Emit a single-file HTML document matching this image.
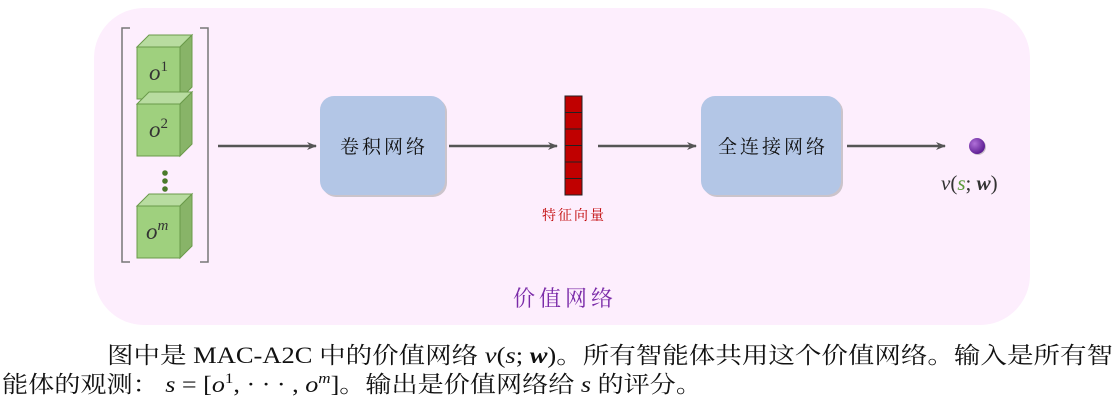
<!DOCTYPE html>
<html><head><meta charset="utf-8"><style>
html,body{margin:0;padding:0;background:#fff;width:1118px;height:404px;overflow:hidden}
svg{display:block}
.cj{font-family:"Liberation Serif","Noto Serif CJK SC",serif}
.it{font-family:"Liberation Serif",serif;font-style:italic}
</style></head><body>
<svg width="1118" height="404" viewBox="0 0 1118 404" xmlns="http://www.w3.org/2000/svg">
<defs>
<marker id="ar" markerWidth="10" markerHeight="10" refX="9" refY="5" orient="auto" markerUnits="userSpaceOnUse">
<path d="M0,1 L10,5 L0,9 L3,5 Z" fill="#555"/></marker>
<radialGradient id="dg" cx="0.35" cy="0.35" r="0.7"><stop offset="0" stop-color="#b070d8"/><stop offset="1" stop-color="#5a1a90"/></radialGradient>
</defs>
<rect x="94" y="8" width="936" height="317" rx="50" fill="#fdeefd"/>
<path d="M130,28 L122,28 L122,262 L130,262" fill="none" stroke="#777" stroke-width="1.5"/>
<path d="M200,28 L208,28 L208,262 L200,262" fill="none" stroke="#777" stroke-width="1.5"/>
<g stroke="#6a9a4a" stroke-width="1">
<polygon points="137,47 149,35 192,35 180,47" fill="#b8dca0"/>
<polygon points="180,47 192,35 192,87 180,99" fill="#88b468"/>
<rect x="137" y="47" width="43" height="52" fill="#9fd07e"/>
<polygon points="137,104 149,92 192,92 180,104" fill="#b8dca0"/>
<polygon points="180,104 192,92 192,144 180,156" fill="#88b468"/>
<rect x="137" y="104" width="43" height="52" fill="#9fd07e"/>
<polygon points="137,206 149,194 192,194 180,206" fill="#b8dca0"/>
<polygon points="180,206 192,194 192,246 180,258" fill="#88b468"/>
<rect x="137" y="206" width="43" height="52" fill="#9fd07e"/>
</g>
<circle cx="165" cy="173" r="2.8" fill="#4a7a2a"/>
<circle cx="165" cy="181" r="2.8" fill="#4a7a2a"/>
<circle cx="165" cy="189" r="2.8" fill="#4a7a2a"/>
<text x="149" y="80" class="it" font-size="23" fill="#333">o<tspan font-style="normal" font-size="15" dy="-9">1</tspan></text>
<text x="149" y="137" class="it" font-size="23" fill="#333">o<tspan font-style="normal" font-size="15" dy="-9">2</tspan></text>
<text x="146" y="239" class="it" font-size="23" fill="#333">o<tspan font-size="15" dy="-9">m</tspan></text>
<g stroke="#555" stroke-width="2.5" marker-end="url(#ar)">
<line x1="218" y1="146" x2="316" y2="146"/>
<line x1="449" y1="146" x2="557" y2="146"/>
<line x1="598" y1="146" x2="696" y2="146"/>
<line x1="847" y1="146" x2="945" y2="146"/>
</g>
<rect x="322" y="98" width="125" height="99" rx="14" fill="#999" opacity="0.5"/>
<rect x="320" y="96" width="125" height="99" rx="14" fill="#b3c6e6"/>
<text x="384" y="153" text-anchor="middle" class="cj" font-size="19" letter-spacing="3" fill="#111">卷积网络</text>
<rect x="703" y="98" width="140" height="99" rx="14" fill="#999" opacity="0.5"/>
<rect x="701" y="96" width="140" height="99" rx="14" fill="#b3c6e6"/>
<text x="773" y="153" text-anchor="middle" class="cj" font-size="19" letter-spacing="3" fill="#111">全连接网络</text>
<rect x="565" y="96" width="17" height="99" fill="#c00000" stroke="#222" stroke-width="1"/>
<g stroke="#222" stroke-width="1">
<line x1="565" y1="112.5" x2="582" y2="112.5"/><line x1="565" y1="129" x2="582" y2="129"/>
<line x1="565" y1="145.5" x2="582" y2="145.5"/><line x1="565" y1="162" x2="582" y2="162"/>
<line x1="565" y1="178.5" x2="582" y2="178.5"/></g>
<text x="574" y="220" text-anchor="middle" class="cj" font-size="14" letter-spacing="2" fill="#c00000">特征向量</text>
<circle cx="978" cy="147" r="8" fill="#777" opacity="0.4"/>
<circle cx="977" cy="146" r="8" fill="url(#dg)"/>
<text x="941" y="190" font-family="Liberation Serif,serif" font-size="21" fill="#333"><tspan font-style="italic">v</tspan>(<tspan font-style="italic" fill="#5a9a3a">s</tspan>; <tspan font-weight="bold" font-style="italic">w</tspan>)</text>
<text x="565" y="306" text-anchor="middle" class="cj" font-size="22" letter-spacing="4" fill="#7a2aa8">价值网络</text>
<text x="107" y="363" class="cj" font-size="23" fill="#111" textLength="1006" lengthAdjust="spacingAndGlyphs">图中是 MAC-A2C 中的价值网络 <tspan font-style="italic">v</tspan>(<tspan font-style="italic">s</tspan>; <tspan font-style="italic" font-weight="bold">w</tspan>)。所有智能体共用这个价值网络。输入是所有智</text>
<text x="2" y="392" class="cj" font-size="23" fill="#111" textLength="700" lengthAdjust="spacingAndGlyphs">能体的观测： <tspan font-style="italic">s</tspan> = [<tspan font-style="italic">o</tspan><tspan font-size="15" dy="-9">1</tspan><tspan dy="9">, · · · , </tspan><tspan font-style="italic">o</tspan><tspan font-size="15" font-style="italic" dy="-9">m</tspan><tspan dy="9">]。输出是价值网络给 </tspan><tspan font-style="italic">s</tspan> 的评分。</text>
</svg>
</body></html>
